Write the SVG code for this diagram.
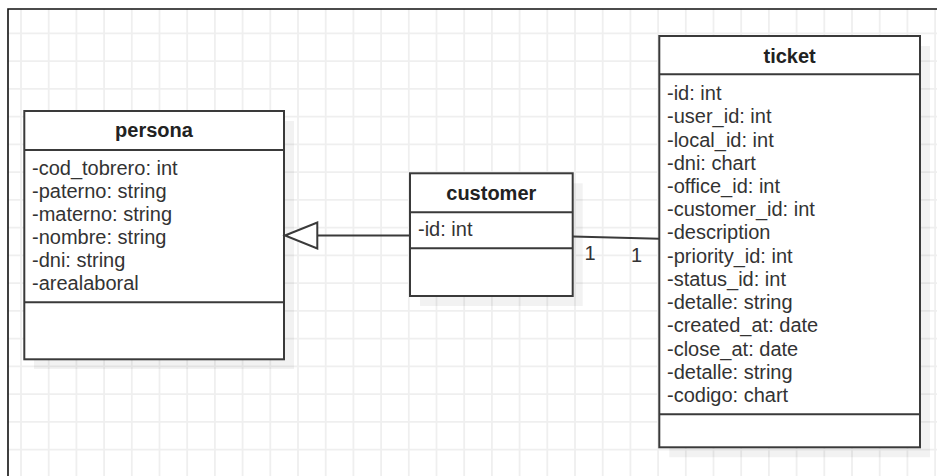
<svg xmlns="http://www.w3.org/2000/svg" width="937" height="476" viewBox="0 0 937 476">
  <style>
    .grid { stroke: #efefef; stroke-width: 1.8; fill: none; }
    .frame { stroke: #111; stroke-width: 1.6; fill: none; }
    .box { fill: #ffffff; stroke: #3a3a3a; stroke-width: 2; }
    .div { stroke: #3a3a3a; stroke-width: 2; }
    .shadow { fill: #000; opacity: 0.05; }
    .title { font-family: "Liberation Sans", Arial, sans-serif; font-size: 20px; font-weight: bold; fill: #222; text-anchor: middle; }
    .attr { font-family: "Liberation Sans", Arial, sans-serif; font-size: 20px; fill: #333; }
    .edge { stroke: #3a3a3a; stroke-width: 2; fill: none; }
    .lbl { font-family: "Liberation Sans", Arial, sans-serif; font-size: 20px; fill: #333; text-anchor: middle; }
  </style>
  <rect x="0" y="0" width="937" height="476" fill="#ffffff"/>
  <g id="background">
    <path class="grid" d="M21,9V476 M48.7,9V476 M76.4,9V476 M104.1,9V476 M131.8,9V476 M159.5,9V476 M187.2,9V476 M214.9,9V476 M242.6,9V476 M270.3,9V476 M298,9V476 M325.7,9V476 M353.4,9V476 M381.1,9V476 M408.8,9V476 M436.5,9V476 M464.2,9V476 M491.9,9V476 M519.6,9V476 M547.3,9V476 M575,9V476 M602.7,9V476 M630.4,9V476 M658.1,9V476 M685.8,9V476 M713.5,9V476 M741.2,9V476 M768.9,9V476 M796.6,9V476 M824.3,9V476 M852,9V476 M879.7,9V476 M907.4,9V476 M935.1,9V476 M8,33.3H937 M8,61.05H937 M8,88.8H937 M8,116.55H937 M8,144.3H937 M8,172.05H937 M8,199.8H937 M8,227.55H937 M8,255.3H937 M8,283.05H937 M8,310.8H937 M8,338.55H937 M8,366.3H937 M8,394.05H937 M8,421.8H937 M8,449.55H937"/>
    <path class="frame" d="M8,476V9H937"/>
  </g>
  <g id="persona">
    <rect class="shadow" x="34" y="121" width="260" height="248"/>
    <rect class="box" x="24.3" y="111" width="259.7" height="248.3"/>
    <line class="div" x1="24.3" y1="150" x2="284" y2="150"/>
    <line class="div" x1="24.3" y1="302.3" x2="284" y2="302.3"/>
    <text class="title" x="154" y="136.5">persona</text>
    <text class="attr" x="32" y="174.5">-cod_tobrero: int</text>
    <text class="attr" x="32" y="197.5">-paterno: string</text>
    <text class="attr" x="32" y="220.5">-materno: string</text>
    <text class="attr" x="32" y="243.5">-nombre: string</text>
    <text class="attr" x="32" y="266.5">-dni: string</text>
    <text class="attr" x="32" y="289.5">-arealaboral</text>
  </g>
  <g id="customer">
    <rect class="shadow" x="420" y="183.3" width="162.7" height="122.7"/>
    <rect class="box" x="410" y="173.3" width="162.7" height="122.7"/>
    <line class="div" x1="410" y1="212.3" x2="572.7" y2="212.3"/>
    <line class="div" x1="410" y1="248.3" x2="572.7" y2="248.3"/>
    <text class="title" x="491.3" y="199.5">customer</text>
    <text class="attr" x="418" y="235.5">-id: int</text>
  </g>
  <g id="ticket">
    <rect class="shadow" x="669.3" y="46" width="260.7" height="411.3"/>
    <rect class="box" x="659.3" y="36" width="260.7" height="411.3"/>
    <line class="div" x1="659.3" y1="74.3" x2="920" y2="74.3"/>
    <line class="div" x1="659.3" y1="414.3" x2="920" y2="414.3"/>
    <text class="title" x="789.6" y="62.5">ticket</text>
    <text class="attr" x="667" y="100">-id: int</text>
    <text class="attr" x="667" y="123.2">-user_id: int</text>
    <text class="attr" x="667" y="146.5">-local_id: int</text>
    <text class="attr" x="667" y="169.7">-dni: chart</text>
    <text class="attr" x="667" y="192.9">-office_id: int</text>
    <text class="attr" x="667" y="216.2">-customer_id: int</text>
    <text class="attr" x="667" y="239.4">-description</text>
    <text class="attr" x="667" y="262.6">-priority_id: int</text>
    <text class="attr" x="667" y="285.8">-status_id: int</text>
    <text class="attr" x="667" y="309.1">-detalle: string</text>
    <text class="attr" x="667" y="332.3">-created_at: date</text>
    <text class="attr" x="667" y="355.5">-close_at: date</text>
    <text class="attr" x="667" y="378.8">-detalle: string</text>
    <text class="attr" x="667" y="402">-codigo: chart</text>
  </g>
  <g id="connectors">
    <line class="edge" x1="410" y1="235.5" x2="317.3" y2="235.5"/>
    <polygon points="285,235.5 317.3,222.5 317.3,248.5" fill="#ffffff" stroke="#3a3a3a" stroke-width="2"/>
    <line class="edge" x1="572.7" y1="236.5" x2="659.3" y2="238.7"/>
    <text class="lbl" x="590" y="260">1</text>
    <text class="lbl" x="636.5" y="262">1</text>
  </g>
</svg>
